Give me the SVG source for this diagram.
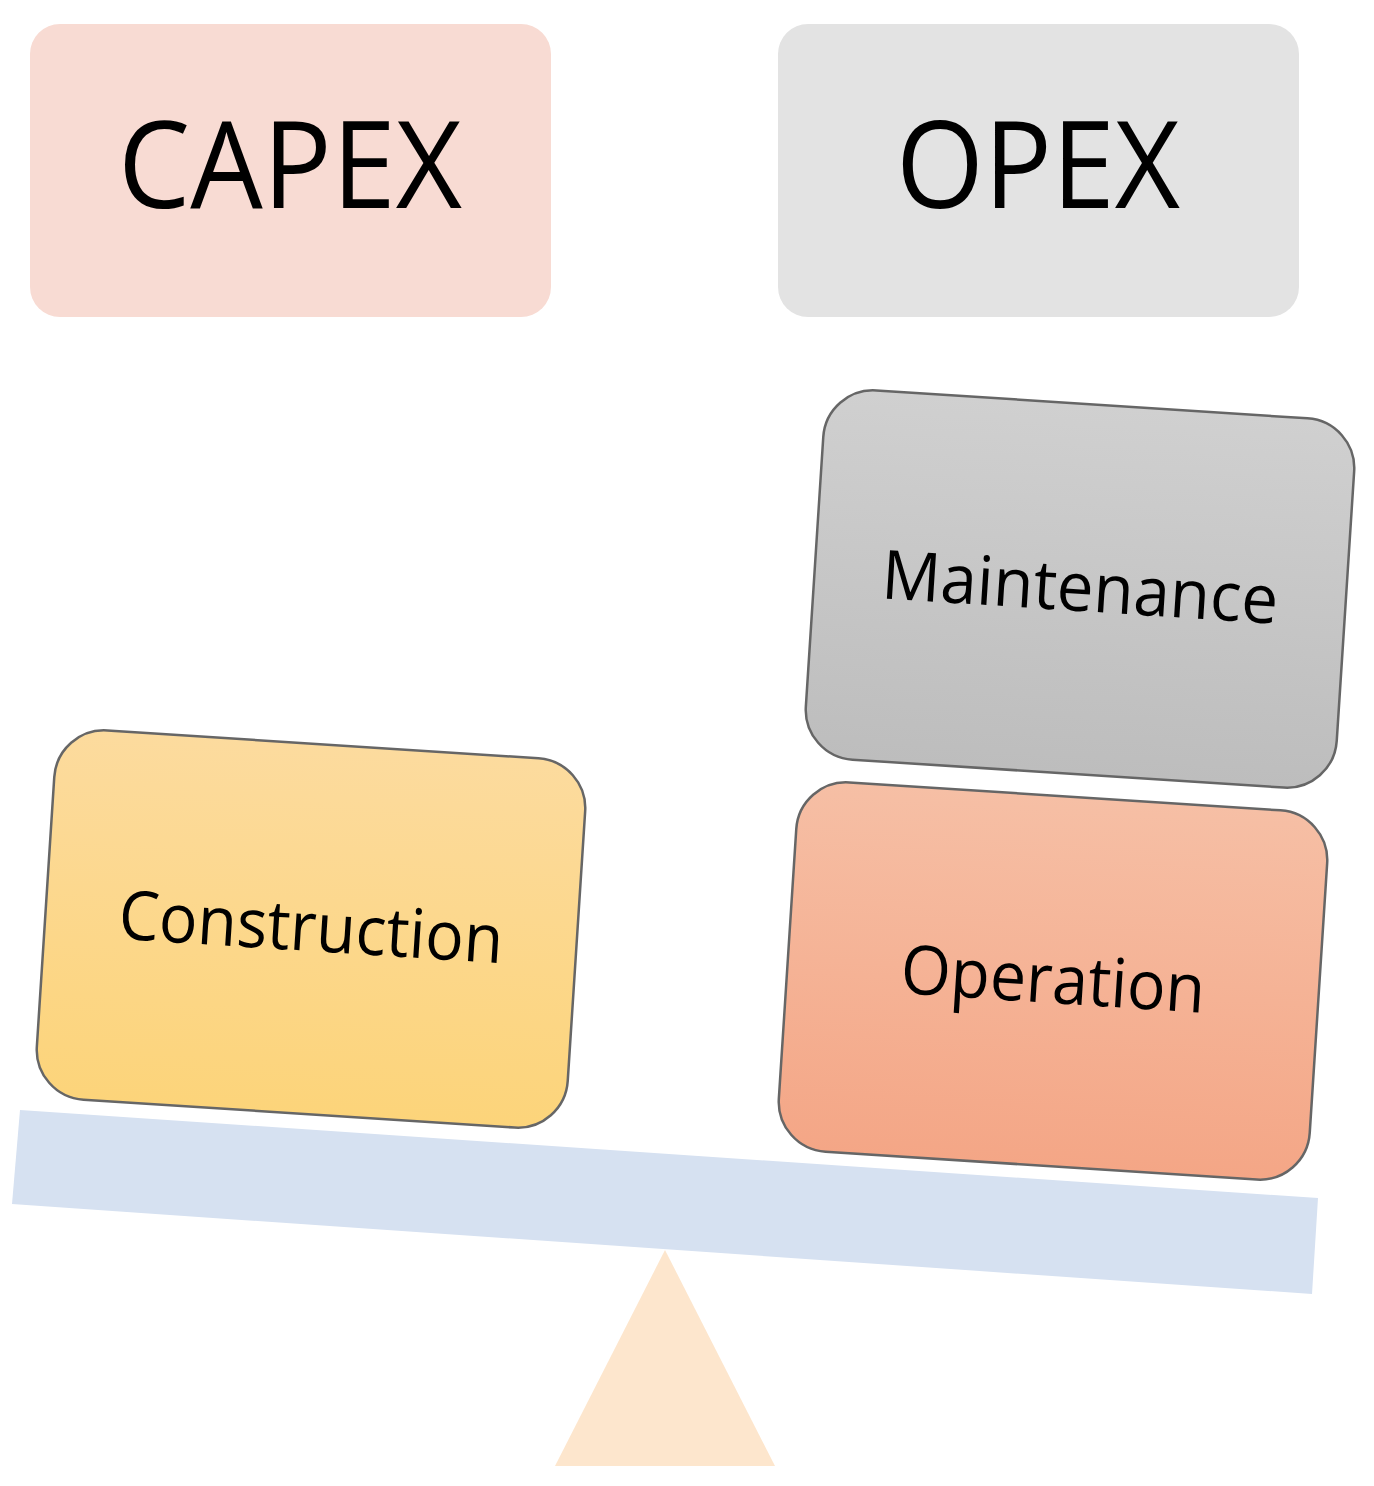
<svg xmlns="http://www.w3.org/2000/svg" width="1374" height="1486" viewBox="0 0 1374 1486">
<defs>
<linearGradient id="gy" x1="0" y1="0" x2="0" y2="1"><stop offset="0" stop-color="#fcdb9e"/><stop offset="1" stop-color="#fcd47a"/></linearGradient>
<linearGradient id="gg" x1="0" y1="0" x2="0" y2="1"><stop offset="0" stop-color="#d0d0d0"/><stop offset="1" stop-color="#bdbdbd"/></linearGradient>
<linearGradient id="go" x1="0" y1="0" x2="0" y2="1"><stop offset="0" stop-color="#f6bfa5"/><stop offset="1" stop-color="#f4a686"/></linearGradient>
<style>
.big{font-family:"Open Sans","Liberation Sans",sans-serif;font-size:120px;fill:#000;text-anchor:middle}
.lbl{font-family:"Open Sans","Liberation Sans",sans-serif;font-size:68px;fill:#000;text-anchor:middle}
.blk{stroke:#666;stroke-width:2.5}
</style>
</defs>
<rect width="1374" height="1486" fill="#fff"/>
<polygon points="20,1110 1318,1198 1312,1294 12,1204" fill="#d6e1f1"/>
<polygon points="665,1250 775,1466 555,1466" fill="#fde6cd"/>
<g id="capex">
<rect x="30" y="24" width="521" height="293" rx="30" fill="#f8dbd3"/>
<text class="big" x="290" y="208" textLength="344" lengthAdjust="spacingAndGlyphs">CAPEX</text>
</g>
<g id="opex">
<rect x="778" y="24" width="521" height="293" rx="30" fill="#e3e3e3"/>
<text class="big" x="1038" y="208" textLength="284" lengthAdjust="spacingAndGlyphs">OPEX</text>
</g>
<g id="construction" transform="translate(311,929) rotate(3.7)">
<rect class="blk" x="-266" y="-185" width="532" height="370" rx="50" fill="url(#gy)"/>
<text class="lbl" x="0" y="22" textLength="385" lengthAdjust="spacingAndGlyphs">Construction</text>
</g>
<g id="maintenance" transform="translate(1080,589) rotate(3.7)">
<rect class="blk" x="-266" y="-185" width="532" height="370" rx="50" fill="url(#gg)"/>
<text class="lbl" x="0" y="22" textLength="397" lengthAdjust="spacingAndGlyphs">Maintenance</text>
</g>
<g id="operation" transform="translate(1053,981) rotate(3.7)">
<rect class="blk" x="-266" y="-185" width="532" height="370" rx="50" fill="url(#go)"/>
<text class="lbl" x="0" y="22" textLength="305" lengthAdjust="spacingAndGlyphs">Operation</text>
</g>
<g id="connectors"/>
</svg>
